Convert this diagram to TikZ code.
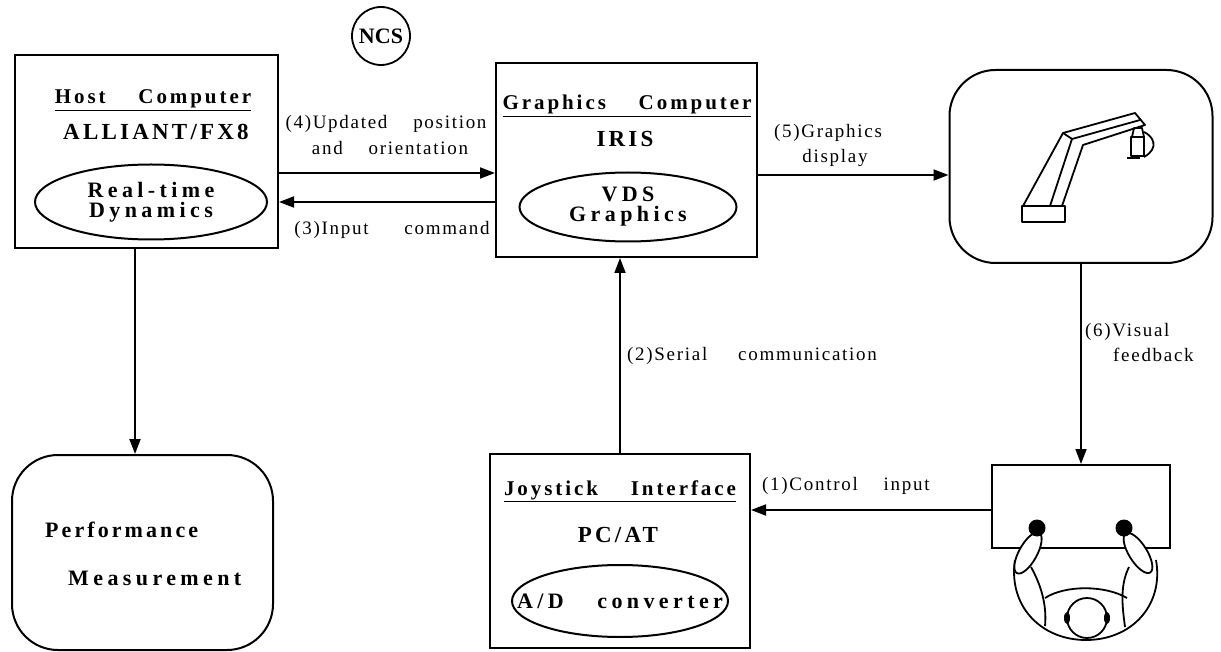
\documentclass[tikz,border=0pt]{standalone}
\usepackage{fontspec}
\setmainfont{Liberation Serif}
\newfontfamily\lblfont{Liberation Serif}[LetterSpace=9,WordSpace=4]
\newfontfamily\boxfont{Liberation Serif}[LetterSpace=14,WordSpace=4]
\newfontfamily\ovalfont{Liberation Serif}[LetterSpace=20,WordSpace=3]
\usetikzlibrary{arrows.meta,calc,shapes.geometric}

\tikzset{
  unit/.style={draw, line width=2pt, inner sep=0pt},
  blockbox/.style={unit, rectangle},
  softbox/.style={unit, rectangle, rounded corners=46pt},
  oval/.style={draw, line width=2pt, ellipse, inner sep=0pt},
  ovaltext/.style={inner sep=0pt, align=center,
    font=\ovalfont\bfseries\fontsize{22}{24}\selectfont},
  arr/.style={line width=1.8pt, -{Triangle[length=15pt,width=11pt]}},
  ttl/.style={inner sep=0pt, anchor=base, font=\boxfont\bfseries\fontsize{21}{24}\selectfont},
  sub/.style={inner sep=0pt, anchor=base, font=\boxfont\bfseries\fontsize{23}{26}\selectfont},
  lbl/.style={inner sep=0pt, anchor=base, font=\lblfont\fontsize{19}{22}\selectfont},
  lblw/.style={lbl, anchor=base west},
  part/.style={line width=1.8pt, line join=round},
}

\begin{document}
\begin{tikzpicture}[x=1pt,y=-1pt]
\useasboundingbox (0,0) rectangle (1221,652);

% main blocks
\node[blockbox, minimum width=263pt, minimum height=193pt] (host) at (146.5,151.5) {};
\node[blockbox, minimum width=261pt, minimum height=194pt] (gfx) at (626.5,160) {};
\node[softbox, minimum width=263pt, minimum height=193pt] (disp) at (1081,166.5) {};
\node[blockbox, minimum width=260pt, minimum height=194pt] (joy) at (620,551) {};
\node[softbox, minimum width=261pt, minimum height=195pt] (perf) at (142.5,552.5) {};
\node[blockbox, minimum width=178pt, minimum height=83pt] (desk) at (1081,506.5) {};
\node[draw, line width=1.8pt, circle, minimum size=58pt, inner sep=0pt,
      font=\bfseries\fontsize{22}{24}\selectfont] (ncs) at (381,36) {NCS};

% host computer contents
\node[ttl] (hostT) at (153,104) {\underline{Host Computer}};
\node[sub] (hostS) at (156,140) {ALLIANT/FX8};
\node[oval, minimum width=232pt, minimum height=75pt] (rtd) at (151,202) {};
\node[ovaltext] (rtdT) at (rtd.center) {Real-time\\[-4pt]Dynamics};

% graphics computer contents
\node[ttl] (gfxT) at (627,110) {\underline{Graphics Computer}};
\node[sub] (gfxS) at (625,147) {IRIS};
\node[oval, minimum width=217pt, minimum height=69pt] (vds) at (628,207) {};
\node[ovaltext] (vdsT) at (vds.center) {VDS\\[-4pt]Graphics};

% joystick interface contents
\node[ttl] (joyT) at (620,495) {\underline{Joystick Interface}};
\node[sub] (joyS) at (618,542) {PC/AT};
\node[oval, minimum width=216pt, minimum height=72pt] (adc) at (620,601) {};
\node[ovaltext] (adcT) at (adc.center) {A/D\hspace{4pt} converter};

% performance measurement text
\node[ttl, anchor=base west, font=\boxfont\bfseries\fontsize{22}{24}\selectfont] (perf1) at (45,537) {Performance};
\node[ttl, anchor=base west, font=\ovalfont\bfseries\fontsize{22}{24}\selectfont] (perf2) at (68,585) {Measurement};

% connector rows and columns
\coordinate (r4) at (0,173);
\coordinate (r3) at (0,202);
\coordinate (r5) at (0,175);
\coordinate (r1) at (0,510);
\coordinate (c0) at (135,0);

\draw[arr] (host.east |- r4) -- (gfx.west |- r4);
\draw[arr] (gfx.west |- r3) -- (host.east |- r3);
\draw[arr] (gfx.east |- r5) -- (disp.west |- r5);
\draw[arr] (disp.south) -- (desk.north);
\draw[arr] (joy.north) -- (joy.north |- gfx.south);
\draw[arr] (desk.west |- r1) -- (joy.east |- r1);
\draw[arr] (host.south -| c0) -- (perf.north -| c0);

% connector labels
\node[lbl] (l4a) at (386,129) {(4)Updated position};
\node[lbl] (l4b) at (390,155) {and orientation};
\node[lbl] (l3) at (392,235) {(3)Input\hspace{10pt} command};
\node[lbl] (l5a) at (828,138) {(5)Graphics};
\node[lbl] (l5b) at (835,163) {display};
\node[lblw] (l6a) at (1085,337) {(6)Visual};
\node[lblw] (l6b) at (1113,362) {feedback};
\node[lblw] (l2) at (627,360) {(2)Serial\hspace{5pt} communication};
\node[lblw] (l1) at (762,490) {(1)Control input};

% robot arm on the display
\draw[part] (1022,206) rectangle (1065,222);
\draw[part] (1023,206) -- (1063,133) -- (1135,113) -- (1145,125) -- (1083,145) -- (1062,206);
\draw[part] (1050,206) -- (1072,139) -- (1140,120);
\draw[part] (1063,133) -- (1072,139);
\draw[part] (1131,137) rectangle (1144,156);
\draw[part] (1132,137) -- (1134,128) -- (1142,128) -- (1144,137);
\draw[part] (1144,132) .. controls (1153,136) and (1160,148) .. (1144,157);
\draw[part] (1127,158) -- (1140,158);

% operator seen from above
\draw[part] (1015,560) .. controls (1008,605) and (1040,640) .. (1086,640)
  .. controls (1132,640) and (1164,605) .. (1156,560);
\draw[part] (1031,567) .. controls (1041,585) and (1047,605) .. (1045,626);
\draw[part] (1129,567) .. controls (1120,585) and (1122,605) .. (1125,627);
\draw[part] (1045,598) .. controls (1065,585) and (1105,585) .. (1127,598);
\draw[part, fill=white] (1087,618) ellipse (20 and 20);
\fill (1067,618) ellipse (3 and 6);
\fill (1107,618) ellipse (3 and 6);
\draw[part, fill=white, shift={(1028,553)}, rotate=61] (0,0) ellipse (23 and 9);
\draw[part, fill=white, shift={(1138,553)}, rotate=122] (0,0) ellipse (23 and 9);
\fill (1037,528) circle (8.5);
\fill (1124,528) circle (8.5);
\end{tikzpicture}
\end{document}
